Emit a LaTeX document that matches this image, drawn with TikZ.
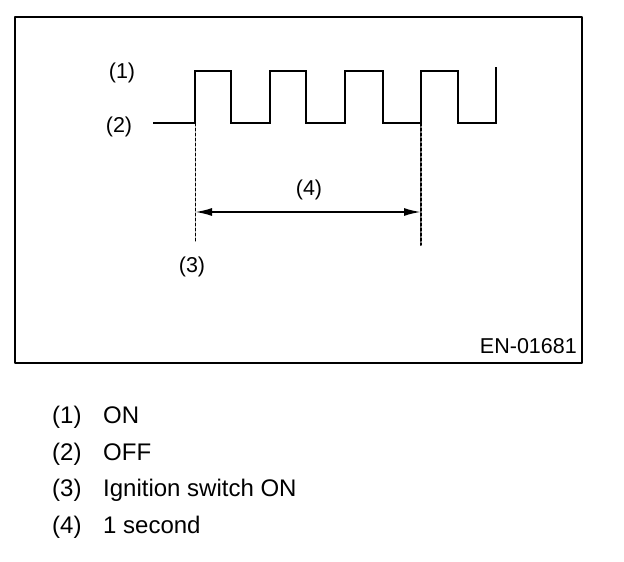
\documentclass[tikz,border=0pt]{standalone}
\usepackage{fontspec}
\setmainfont{Liberation Sans}
\usetikzlibrary{arrows.meta}
\tikzset{
  wave/.style={line width=1.8pt,line cap=butt,line join=miter},
  mark line/.style={dash pattern=on 3pt off 2pt,line width=1pt},
  lbl/.style={font=\fontsize{21.5}{25}\selectfont,inner sep=0pt},
  legend/.style={font=\fontsize{24}{28}\selectfont,inner sep=0pt,anchor=base west},
}
\begin{document}
\begin{tikzpicture}[x=1pt,y=-1pt,line cap=round,line join=round]
  \useasboundingbox (0,0) rectangle (624,562);
  % frame
  \draw[line width=1.6pt] (15,17) rectangle (582,363);
  % waveform
  \coordinate (start) at (153,123);
  \coordinate (t0) at (195,123);
  \coordinate (t1) at (421,123);
  \draw[wave] (start) -- (t0)
    \foreach \r/\f in {195/231,270/306,345/383,421/458} {
      -- (\r,123) -- (\r,71) -- (\f,71) -- (\f,123)
    } -- (496,123) -- (496,67);
  % time marks
  \coordinate (b0) at (195,241);
  \coordinate (b1) at (421,245);
  \draw[mark line] (t0) -- (b0);
  \draw[mark line,line width=2pt] (t1) -- (b1);
  \coordinate (a0) at (195,212);
  \coordinate (a1) at (421,212);
  \draw[{Latex[length=17pt,width=8pt]}-{Latex[length=17pt,width=8pt]},line width=2pt] (a0) -- (a1);
  % labels
  \node[lbl] (on) at (122,73) {(1)};
  \node[lbl] (off) at (119,127) {(2)};
  \node[lbl] (ign) at (192,267) {(3)};
  \node[lbl] (sec) at (309,190) {(4)};
  \node[lbl,anchor=base east] (code) at (577,353) {EN-01681};
  % legend
  \node[legend] (n1) at (52,423) {(1)};
  \node[legend] (n2) at (52,460) {(2)};
  \node[legend] (n3) at (52,496) {(3)};
  \node[legend] (n4) at (52,533) {(4)};
  \node[legend] (l1) at (103,423) {ON};
  \node[legend] (l2) at (103,460) {OFF};
  \node[legend] (l3) at (103,496) {Ignition switch ON};
  \node[legend] (l4) at (103,533) {1 second};
\end{tikzpicture}
\end{document}
